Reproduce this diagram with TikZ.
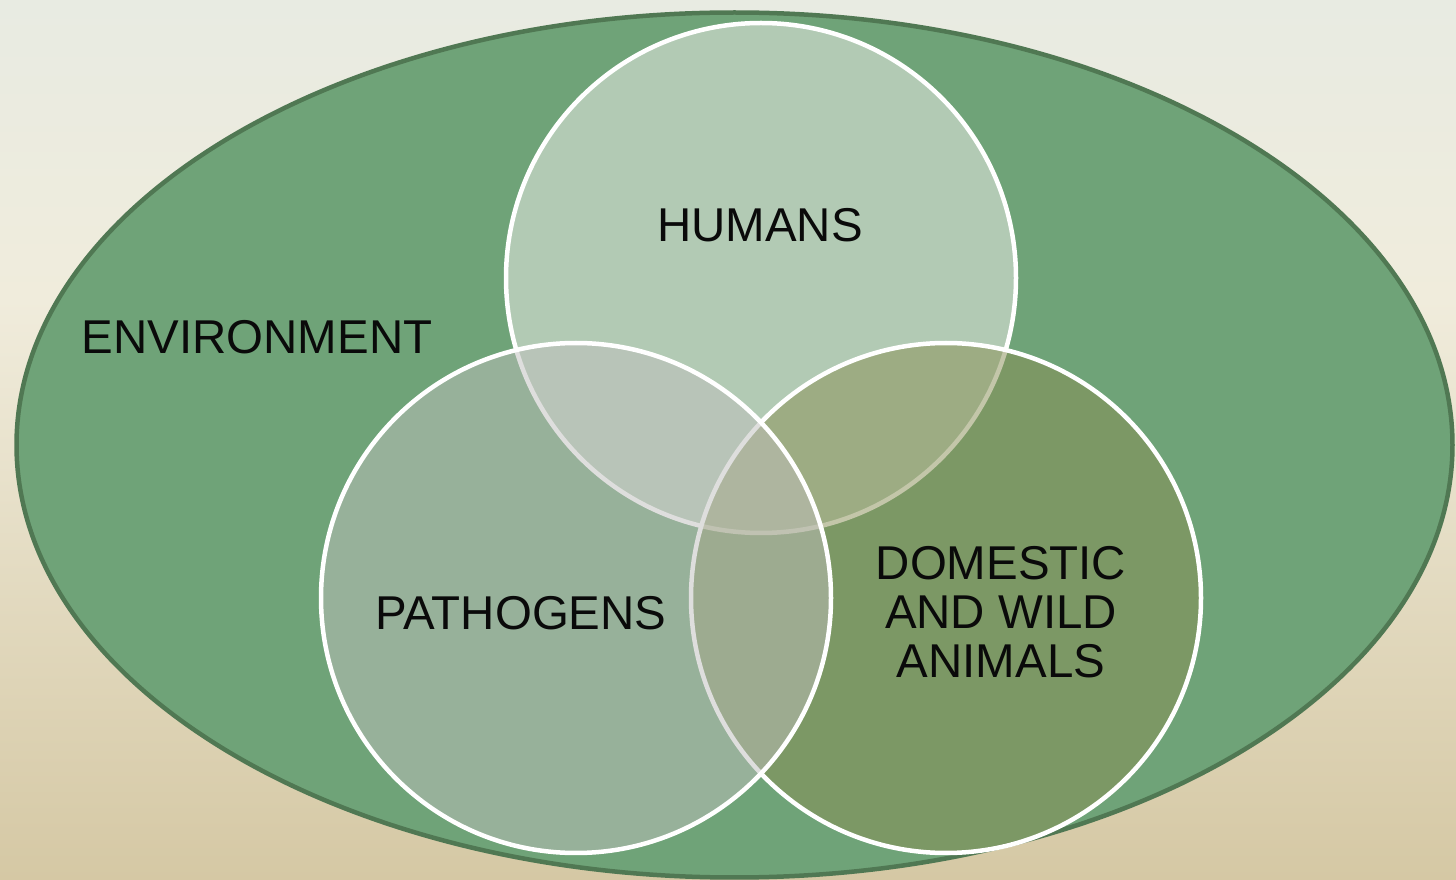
\documentclass[tikz,border=0pt]{standalone}
\usepackage{fontspec}
\setmainfont{Liberation Sans}
\usepackage{tikz}

\definecolor{bgtop}{RGB}{232,235,226}
\definecolor{bgmid}{RGB}{240,236,220}
\definecolor{bgbot}{RGB}{213,200,164}
\definecolor{envgreen}{RGB}{111,163,120}
\definecolor{envedge}{RGB}{80,120,83}
\definecolor{humfill}{RGB}{245,241,240}
\definecolor{animfill}{RGB}{137,143,84}
\definecolor{pathfill}{RGB}{191,191,188}

\begin{document}
\begin{tikzpicture}[x=0.1mm,y=-0.1mm,
  setcircle/.style={circle,minimum size=51mm,inner sep=0pt,draw=white,line width=0.45mm,fill opacity=0.5},
  setlabel/.style={font=\fontsize{13.5}{14}\selectfont,text=black!96,align=center,inner sep=0pt}]
\shade [top color=bgtop,bottom color=bgmid] (0,0) rectangle (1456,300);
\shade [top color=bgmid,bottom color=bgbot] (0,299) rectangle (1456,880);
\draw [envedge,fill=envgreen,line width=0.45mm] (734.5,445) ellipse [x radius=71.8mm,y radius=43.25mm];
%
\node [setcircle,fill=humfill] (humans) at (761,278) {};
\node [setcircle,fill=animfill] (animals) at (946,598) {};
\node [setcircle,fill=pathfill] (pathogens) at (576,598) {};
%
\node [setlabel] (envtext) at (257,337) {ENVIRONMENT};
\node [setlabel] (humtext) at (760,225) {HUMANS};
\node [setlabel] (pathtext) at (521,613) {PATHOGENS};
\node [setlabel] (animtext) at (1001,612) {DOMESTIC\\AND WILD\\ANIMALS};
\end{tikzpicture}
\end{document}
